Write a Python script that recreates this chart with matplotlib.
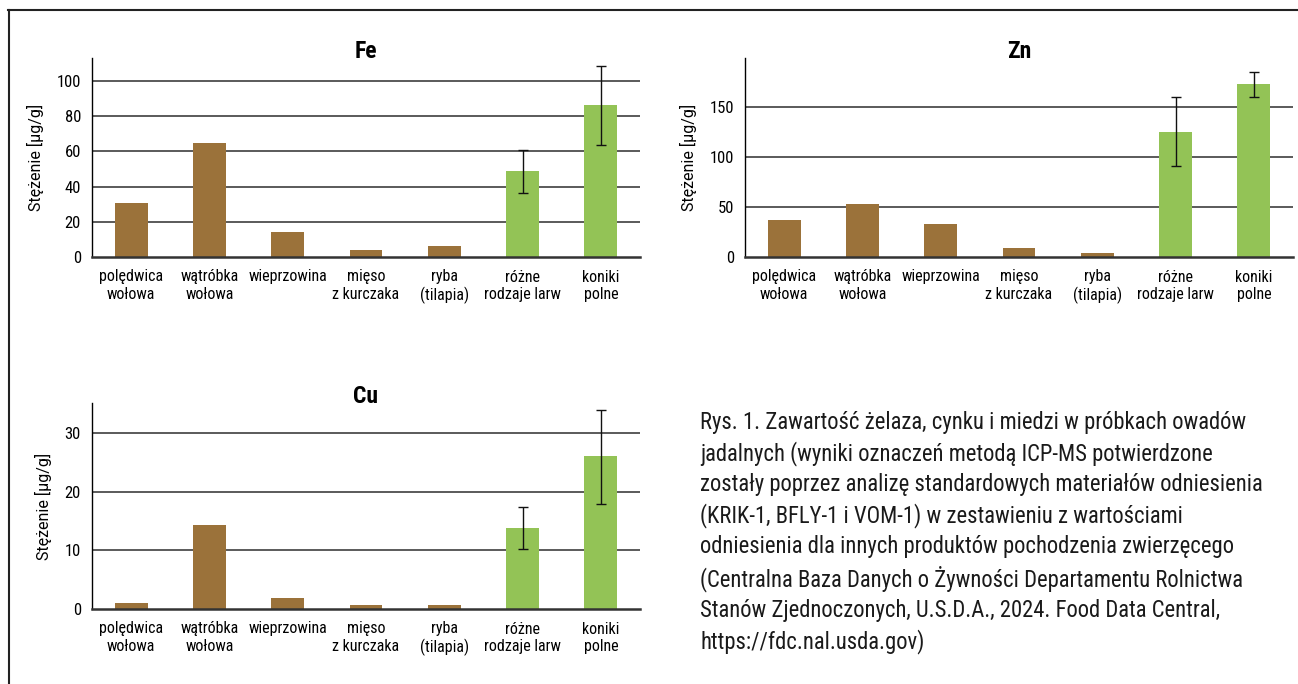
import matplotlib
matplotlib.use("Agg")
import matplotlib.pyplot as plt
from matplotlib.lines import Line2D
from matplotlib import font_manager

installed = {f.name for f in font_manager.fontManager.ttflist}
condensed = [n for n in ("Liberation Sans Narrow", "Roboto Condensed", "Open Sans Condensed",
                         "Noto Sans Condensed", "DejaVu Sans Condensed") if n in installed]
base = condensed[0] if condensed else "Roboto"
plt.rcParams['font.family'] = [base, 'DejaVu Sans']
LABEL_FONT = ["Roboto", "DejaVu Sans"]

categories = ["polędwica\nwołowa", "wątróbka\nwołowa", "wieprzowina", "mięso\nz kurczaka",
              "ryba\n(tilapia)", "różne\nrodzaje larw", "koniki\npolne"]

fe_values = [30.4, 64.5, 14.4, 4.2, 6.5, 49.1, 86.1]
fe_err_low = [None, None, None, None, None, 36.4, 63.8]
fe_err_high = [None, None, None, None, None, 60.7, 108.2]

zn_values = [37.3, 53.3, 33.3, 9.3, 4.3, 125.3, 173.3]
zn_err_low = [None, None, None, None, None, 91.3, 160.0]
zn_err_high = [None, None, None, None, None, 160.0, 185.0]

cu_values = [1.1, 14.35, 1.8, 0.6, 0.75, 13.85, 26.1]
cu_err_low = [None, None, None, None, None, 10.2, 18.0]
cu_err_high = [None, None, None, None, None, 17.5, 34.0]

BROWN = "#9b723a"
GREEN = "#93c356"
bar_colors = [BROWN] * 5 + [GREEN] * 2

W, H = 1298, 684
fig = plt.figure(figsize=(W / 100, H / 100), dpi=100)


def px_axes(left, right, top, bottom):
    return fig.add_axes([left / W, 1 - bottom / H, (right - left) / W, (bottom - top) / H])


def panel(ax, title, values, lo, hi, ymax, ticks):
    x = list(range(len(values)))
    ax.set_xlim(-0.5, len(values) - 0.5)
    ax.set_ylim(0, ymax)
    for t in ticks[1:]:
        ax.axhline(t, color="#2e2e2e", lw=1.1, zorder=0)
    ax.bar(x, values, width=0.42, color=bar_colors, zorder=2)
    for i, (v, l, h) in enumerate(zip(values, lo, hi)):
        if l is None:
            continue
        ax.errorbar([i], [v], yerr=[[v - l], [h - v]], fmt="none", ecolor="#111111",
                    elinewidth=1.0, capsize=3.5, capthick=1.0, zorder=3)
    ax.set_yticks(ticks)
    ax.set_yticklabels([str(t) for t in ticks], fontsize=12)
    ax.tick_params(axis="y", length=0, pad=8)
    ax.set_xticks(x)
    ax.set_xticklabels(categories, fontsize=11.5, linespacing=1.2)
    ax.tick_params(axis="x", length=0, pad=9)
    for s in ("top", "right"):
        ax.spines[s].set_visible(False)
    ax.spines["left"].set_color("#000000")
    ax.spines["left"].set_linewidth(1.0)
    ax.spines["bottom"].set_color("#333333")
    ax.spines["bottom"].set_linewidth(1.8)
    ax.set_ylabel("Stężenie [µg/g]", fontsize=11.5, labelpad=9, family=LABEL_FONT)
    ax.set_title(title, fontsize=17, fontweight="bold", y=1.0, pad=0)
    ax.patch.set_alpha(0)


ax_fe = px_axes(92, 640, 58, 257)
panel(ax_fe, "Fe", fe_values, fe_err_low, fe_err_high, 113, [0, 20, 40, 60, 80, 100])

ax_zn = px_axes(745, 1293, 58, 257)
panel(ax_zn, "Zn", zn_values, zn_err_low, zn_err_high, 199, [0, 50, 100, 150])

ax_cu = px_axes(92, 640, 403, 609)
panel(ax_cu, "Cu", cu_values, cu_err_low, cu_err_high, 35.2, [0, 10, 20, 30])

# outer frame (top and left edges)
fig.add_artist(Line2D([8 / W, 1.0], [1 - 10 / H, 1 - 10 / H], color="#222222", lw=1.5,
                      transform=fig.transFigure))
fig.add_artist(Line2D([9 / W, 9 / W], [1 - 10 / H, 0], color="#222222", lw=1.5,
                      transform=fig.transFigure))

caption = ("Rys. 1. Zawartość żelaza, cynku i miedzi w próbkach owadów\n"
           "jadalnych (wyniki oznaczeń metodą ICP-MS potwierdzone\n"
           "zostały poprzez analizę standardowych materiałów odniesienia\n"
           "(KRIK-1, BFLY-1 i VOM-1) w zestawieniu z wartościami\n"
           "odniesienia dla innych produktów pochodzenia zwierzęcego\n"
           "(Centralna Baza Danych o Żywności Departamentu Rolnictwa\n"
           "Stanów Zjednoczonych, U.S.D.A., 2024. Food Data Central,\n"
           "https://fdc.nal.usda.gov)")
fig.text(700 / W, 1 - 411 / H, caption, fontsize=16.3 if condensed else 14.4, va="top",
         ha="left", linespacing=1.37, color="#1a1a1a")

fig.savefig("out.png", dpi=100)
